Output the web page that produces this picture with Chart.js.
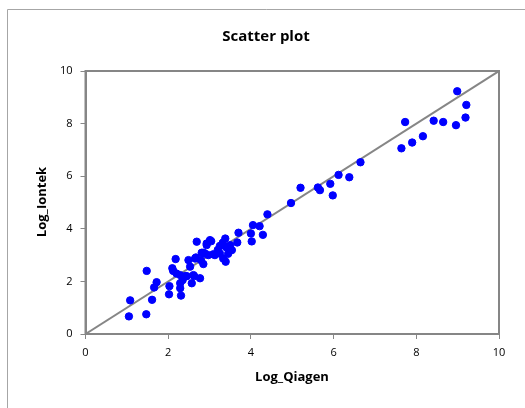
<!DOCTYPE html>
<html>
<head>
<meta charset="utf-8">
<script src="https://cdn.jsdelivr.net/npm/chart.js@4"></script>
<style>
html,body{margin:0;padding:0;background:#fff;}
#wrap{width:525px;height:408px;position:relative;}
</style>
</head>
<body>
<div id="wrap"><canvas id="c" width="525" height="408"></canvas></div>
<script>
const qiagen = [1.05,1.47,1.08,1.61,1.48,1.72,1.66,2.02,2.03,2.31,2.18,2.10,2.12,2.29,2.29,2.29,2.57,2.45,2.63,2.77,2.49,2.53,2.69,2.67,2.85,2.93,3.04,2.81,2.89,3.09,3.38,3.39,3.33,3.54,3.70,3.67,4.00,4.02,4.05,4.21,4.29,4.40,3.25,3.32,3.50,3.25,3.01,2.93,2.85,2.79,2.97,3.13,2.65,2.41,2.61,2.20,2.35,3.20,3.45,3.40,4.97,5.20,5.62,5.67,5.92,5.98,6.12,6.38,6.65,7.64,7.73,7.90,8.16,8.42,8.65,8.96,8.99,9.21,9.19];
const iontek = [0.67,0.75,1.28,1.30,2.40,1.97,1.77,1.51,1.82,1.46,2.85,2.50,2.40,2.24,1.93,1.74,1.93,2.20,2.20,2.12,2.81,2.56,3.51,2.91,2.66,3.38,3.53,3.09,3.06,3.03,3.63,2.75,2.87,3.19,3.85,3.48,3.82,3.52,4.14,4.10,3.77,4.55,3.35,3.47,3.38,3.06,3.57,3.44,3.09,2.81,3.00,3.00,2.87,2.20,2.24,2.30,2.05,3.20,3.05,3.30,4.98,5.56,5.57,5.47,5.71,5.27,6.05,5.96,6.53,7.06,8.06,7.28,7.52,8.11,8.06,7.94,9.23,8.71,8.23];
const lineX = [0,10];
const lineY = [0,10];
const tickValues = [0,2,4,6,8,10];
const titleText = 'Scatter plot';
const xTitle = 'Log_Qiagen';
const yTitle = 'Log_Iontek';

const FONT = "'Open Sans', 'Noto Sans', sans-serif";
const GRAY = '#868686';

const points = qiagen.map((x,i)=>({x:x,y:iontek[i]}));
const linePts = lineX.map((x,i)=>({x:x,y:lineY[i]}));

const frame = {
  id:'frame',
  beforeDraw(chart){
    const ctx = chart.ctx;
    ctx.save();
    ctx.fillStyle='#fff';
    ctx.fillRect(0,0,chart.width,chart.height);
    ctx.strokeStyle='#a6a6a6';
    ctx.lineWidth=1;
    ctx.beginPath();
    ctx.moveTo(7.5,420);
    ctx.lineTo(7.5,9.5);
    ctx.lineTo(540,9.5);
    ctx.stroke();
    ctx.restore();
  },
  afterDatasetsDraw(chart){
    const a = chart.chartArea, ctx = chart.ctx;
    ctx.save();
    ctx.strokeStyle=GRAY;
    ctx.lineWidth=2;
    ctx.strokeRect(a.left,a.top,a.right-a.left,a.bottom-a.top);
    ctx.restore();
  },
  afterDraw(chart){
    const ctx = chart.ctx;
    ctx.save();
    ctx.fillStyle='#000';
    ctx.textAlign='center';
    ctx.textBaseline='middle';
    ctx.font = "bold 15px "+FONT;
    ctx.fillText(titleText, 266, 37);
    ctx.font = "bold 13px "+FONT;
    ctx.fillText(xTitle, 292, 377);
    ctx.translate(42, 202);
    ctx.rotate(-Math.PI/2);
    ctx.fillText(yTitle, 0, 0);
    ctx.restore();
  }
};

new Chart(document.getElementById('c'), {
  type:'scatter',
  data:{datasets:[
    {data:points, backgroundColor:'#0000ff', borderColor:'#0000ff', pointRadius:3.7, pointHoverRadius:3.7, order:1},
    {data:linePts, showLine:true, borderColor:GRAY, borderWidth:2, pointRadius:0, order:2}
  ]},
  options:{
    responsive:false, animation:false, devicePixelRatio:1,
    layout:{padding:{left:0,right:26,top:71,bottom:0}},
    plugins:{legend:{display:false}, tooltip:{enabled:false}, title:{display:false}},
    scales:{
      x:{type:'linear', min:0, max:10,
        afterBuildTicks(s){ s.ticks = tickValues.map(v=>({value:v})); },
        afterFit(s){ s.height = 74; },
        grid:{display:true, drawOnChartArea:false, drawTicks:true, tickLength:5, color:GRAY, lineWidth:1},
        border:{display:true, color:GRAY, width:2},
        ticks:{color:'#000', font:{family:FONT, size:11}, padding:7, maxRotation:0},
        title:{display:false}
      },
      y:{type:'linear', min:0, max:10,
        afterBuildTicks(s){ s.ticks = tickValues.map(v=>({value:v})); },
        afterFit(s){ s.width = 85.5; },
        grid:{display:true, drawOnChartArea:false, drawTicks:true, tickLength:5, color:GRAY, lineWidth:1},
        border:{display:true, color:GRAY, width:2},
        ticks:{color:'#000', font:{family:FONT, size:11}, padding:8},
        title:{display:false}
      }
    }
  },
  plugins:[frame]
});
</script>
</body>
</html>
